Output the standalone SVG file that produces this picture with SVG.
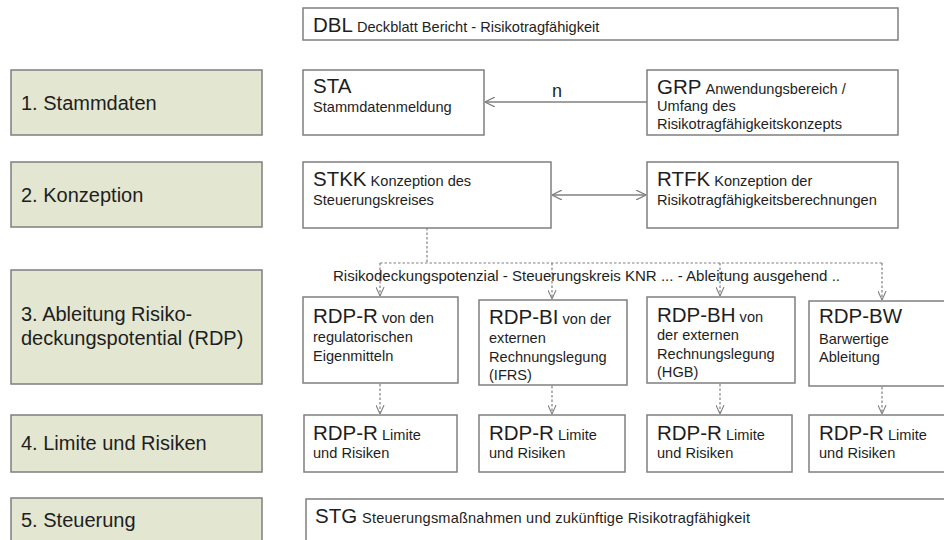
<svg xmlns="http://www.w3.org/2000/svg" width="944" height="540" viewBox="0 0 944 540">
<defs>
<style>
text{font-family:"Liberation Sans",Arial,sans-serif;fill:#1e1e1e}
.lb{fill:#e3e6d0;stroke:#7f7f7f;stroke-width:1.5}
.bx{fill:#fff;stroke:#7f7f7f;stroke-width:1.5}
.lt{font-size:20px}
.big{font-size:20.5px}
.sm{font-size:14.6px}
.ln{fill:none;stroke:#808080;stroke-width:1.3}
.dl{fill:none;stroke:#808080;stroke-width:1.2;stroke-dasharray:2.5 2}
</style>
<marker id="ah" viewBox="0 0 10 10" refX="10" refY="5" markerWidth="10" markerHeight="10" markerUnits="userSpaceOnUse" orient="auto-start-reverse">
<path d="M0,0 L10,5 L0,10" fill="none" stroke="#808080" stroke-width="1.3"/>
</marker>
<marker id="ad" viewBox="0 0 10 10" refX="10" refY="5" markerWidth="9" markerHeight="9" markerUnits="userSpaceOnUse" orient="auto">
<path d="M0,0.5 L10,5 L0,9.5" fill="none" stroke="#808080" stroke-width="1.2"/>
</marker>
</defs>
<rect width="944" height="540" fill="#fff"/>

<g id="lane1"><rect class="lb" x="11" y="70" width="251" height="65"/><text class="lt" x="21" y="110">1. Stammdaten</text></g>
<g id="lane2"><rect class="lb" x="11" y="162" width="251" height="65"/><text class="lt" x="21" y="202">2. Konzeption</text></g>
<g id="lane3"><rect class="lb" x="11" y="270" width="251" height="114"/><text class="lt" x="21" y="321">3. Ableitung Risiko-</text><text class="lt" x="21" y="345">deckungspotential (RDP)</text></g>
<g id="lane4"><rect class="lb" x="11" y="415" width="251" height="57"/><text class="lt" x="21" y="450">4. Limite und Risiken</text></g>
<g id="lane5"><rect class="lb" x="11" y="498" width="251" height="50"/><text class="lt" x="21" y="527">5. Steuerung</text></g>

<g id="DBL"><rect class="bx" x="303" y="8" width="595" height="32"/><text x="313" y="32"><tspan class="big">DBL</tspan><tspan class="sm" dx="4">Deckblatt Bericht - Risikotragfähigkeit</tspan></text></g>
<g id="STA"><rect class="bx" x="303" y="70" width="181" height="65"/><text class="big" x="313" y="93">STA</text><text class="sm" x="313" y="112">Stammdatenmeldung</text></g>
<g id="GRP"><rect class="bx" x="647" y="70" width="251" height="65"/><text x="657" y="94"><tspan class="big">GRP</tspan><tspan class="sm" dx="4">Anwendungsbereich  /</tspan></text><text class="sm" x="657" y="111">Umfang des</text><text class="sm" x="657" y="129">Risikotragfähigkeitskonzepts</text></g>
<g id="STKK"><rect class="bx" x="303" y="162" width="248" height="66"/><text x="313" y="186"><tspan class="big">STKK</tspan><tspan class="sm" dx="4">Konzeption des</tspan></text><text class="sm" x="313" y="205">Steuerungskreises</text></g>
<g id="RTFK"><rect class="bx" x="647" y="162" width="251" height="66"/><text x="657" y="186"><tspan class="big">RTFK</tspan><tspan class="sm" dx="4">Konzeption der</tspan></text><text class="sm" x="657" y="205">Risikotragfähigkeitsberechnungen</text></g>

<g id="RDP-R"><rect class="bx" x="303" y="297" width="155" height="86"/><text x="313" y="323"><tspan class="big">RDP-R</tspan><tspan class="sm" dx="4">von den</tspan></text><text class="sm" x="313" y="342">regulatorischen</text><text class="sm" x="313" y="361">Eigenmitteln</text></g>
<g id="RDP-BI"><rect class="bx" x="479" y="300" width="148" height="85"/><text x="489" y="324"><tspan class="big">RDP-BI</tspan><tspan class="sm" dx="4">von der</tspan></text><text class="sm" x="489" y="343">externen</text><text class="sm" x="489" y="362">Rechnungslegung</text><text class="sm" x="489" y="380">(IFRS)</text></g>
<g id="RDP-BH"><rect class="bx" x="647" y="297" width="148" height="86"/><text x="657" y="322"><tspan class="big">RDP-BH</tspan><tspan class="sm" dx="4">von</tspan></text><text class="sm" x="657" y="340">der externen</text><text class="sm" x="657" y="359">Rechnungslegung</text><text class="sm" x="657" y="377">(HGB)</text></g>
<g id="RDP-BW"><rect class="bx" x="809" y="301" width="145" height="85"/><text class="big" x="819" y="323">RDP-BW</text><text class="sm" x="819" y="344">Barwertige</text><text class="sm" x="819" y="362">Ableitung</text></g>

<g id="LR1"><rect class="bx" x="304" y="415" width="153" height="57"/><text x="313" y="440"><tspan class="big">RDP-R</tspan><tspan class="sm" dx="4">Limite</tspan></text><text class="sm" x="313" y="458">und Risiken</text></g>
<g id="LR2"><rect class="bx" x="479" y="415" width="146" height="57"/><text x="489" y="440"><tspan class="big">RDP-R</tspan><tspan class="sm" dx="4">Limite</tspan></text><text class="sm" x="489" y="458">und Risiken</text></g>
<g id="LR3"><rect class="bx" x="647" y="415" width="145" height="57"/><text x="657" y="440"><tspan class="big">RDP-R</tspan><tspan class="sm" dx="4">Limite</tspan></text><text class="sm" x="657" y="458">und Risiken</text></g>
<g id="LR4"><rect class="bx" x="809" y="415" width="145" height="57"/><text x="819" y="440"><tspan class="big">RDP-R</tspan><tspan class="sm" dx="4">Limite</tspan></text><text class="sm" x="819" y="458">und Risiken</text></g>

<g id="STG"><rect class="bx" x="306" y="499" width="650" height="50"/><text class="big" x="315" y="523">STG</text><text class="sm" x="362" y="523" textLength="388" lengthAdjust="spacing">Steuerungsmaßnahmen  und zukünftige  Risikotragfähigkeit</text></g>

<g id="connectors">
<line class="ln" x1="647" y1="102" x2="485" y2="102" marker-end="url(#ah)"/>
<text x="552" y="97" style="font-size:18px">n</text>
<line class="ln" x1="552" y1="195" x2="646" y2="195" marker-start="url(#ah)" marker-end="url(#ah)"/>
<polyline class="dl" points="427,228 427,263"/>
<line class="dl" x1="380" y1="263" x2="882" y2="263"/>
<line class="dl" x1="380" y1="263" x2="380" y2="296" marker-end="url(#ad)"/>
<line class="dl" x1="552" y1="263" x2="552" y2="299" marker-end="url(#ad)"/>
<line class="dl" x1="720" y1="263" x2="720" y2="296" marker-end="url(#ad)"/>
<line class="dl" x1="882" y1="263" x2="882" y2="300" marker-end="url(#ad)"/>
<text class="sm" x="333" y="281" textLength="507" lengthAdjust="spacingAndGlyphs">Risikodeckungspotenzial  - Steuerungskreis  KNR ... - Ableitung  ausgehend ..</text>
<line class="dl" x1="380" y1="384" x2="380" y2="414" marker-end="url(#ad)"/>
<line class="dl" x1="552" y1="386" x2="552" y2="414" marker-end="url(#ad)"/>
<line class="dl" x1="720" y1="384" x2="720" y2="414" marker-end="url(#ad)"/>
<line class="dl" x1="882" y1="387" x2="882" y2="414" marker-end="url(#ad)"/>
</g>
</svg>
